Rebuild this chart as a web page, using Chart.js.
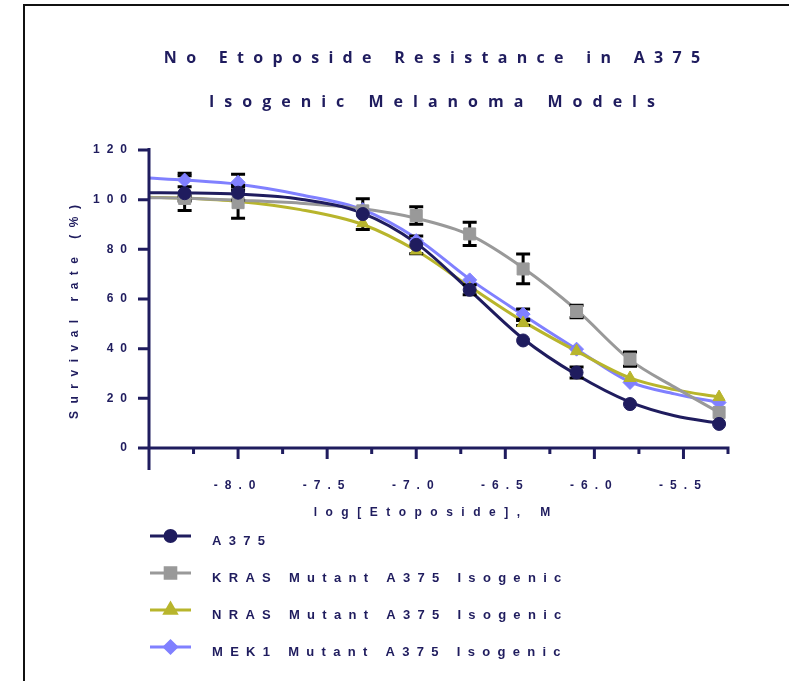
<!DOCTYPE html>
<html lang="en">
  <head>
    <meta charset="utf-8" />
    <title>Etoposide survival</title>
    <style>
      * {
        margin: 0;
        padding: 0;
      }
      body {
        background: #fff;
        width: 789px;
        height: 681px;
        overflow: hidden;
      }
      .frame {
        position: absolute;
        left: 23px;
        top: 4px;
        right: 0;
        bottom: 0;
        border-top: 2px solid #111;
        border-left: 2px solid #111;
      }
      canvas {
        position: absolute;
        left: 0;
        top: 0;
      }
    </style>
  </head>
  <body>
    <div class="frame"></div>
    <canvas id="myChart" width="789" height="681"></canvas>
    <script src="https://cdn.jsdelivr.net/npm/chart.js"></script>
    <script>
      // data (log molar concentration vs survival %)
      const logConc = [-8.3, -8.0, -7.3, -7.0, -6.7, -6.4, -6.1, -5.8, -5.3];
      const a375 = [102.6, 102.8, 94.2, 81.8, 63.7, 43.3, 30.4, 17.7, 9.7];
      const kras = [100.5, 98.8, 95.5, 93.6, 86.2, 72.1, 55.0, 35.8, 14.3];
      const nras = [100.5, 100.0, 90.5, 79.5, 64.2, 50.3, 39.0, 28.2, 20.5];
      const mek1 = [107.9, 107.0, 96.0, 83.5, 67.7, 53.9, 39.8, 26.4, 18.3];

      const a375Err = [7, 3, 6.2, 3.6, 2, 0, 2.2, 0, 0];
      const krasErr = [1, 6.3, 0, 3.5, 4.7, 6, 2.5, 2.9, 0];
      const nrasErr = [0, 0, 0, 0, 0, 1, 0, 0, 0];
      const mek1Err = [2.7, 3.2, 0, 0, 0, 2.1, 0, 0, 0];

      // fitted curves
      const fitConc = [-8.5, -8.3, -8.0, -7.65, -7.3, -7.0, -6.7, -6.4, -6.1, -5.8, -5.55, -5.3];
      const a375Fit = [102.8, 102.7, 102.2, 100.2, 94.5, 82.5, 63.5, 44.0, 29.5, 18.5, 13.0, 10.0];
      const krasFit = [100.8, 100.6, 99.8, 98.6, 96.3, 92.5, 85.8, 72.5, 55.6, 35.5, 24.5, 14.3];
      const nrasFit = [101.0, 100.6, 99.3, 96.0, 90.0, 79.5, 65.0, 51.0, 39.0, 28.2, 23.5, 20.5];
      const mek1Fit = [108.7, 107.9, 106.2, 102.0, 96.0, 84.5, 68.0, 53.6, 39.8, 26.6, 21.8, 18.3];

      const xMajor = [-8.0, -7.5, -7.0, -6.5, -6.0, -5.5];
      const xMinor = [-8.25, -7.75, -7.25, -6.75, -6.25, -5.75, -5.25];
      const yTicks = [0, 20, 40, 60, 80, 100, 120];

      const titleLines = ["No Etoposide Resistance in A375", "Isogenic Melanoma Models"];
      const xTitle = "log[Etoposide], M";
      const yTitle = "Survival rate (%)";

      const navy = "#1f1c5e";
      const series = [
        { label: "A375", y: a375, err: a375Err, fit: a375Fit, color: navy, style: "circle", r: 6.5, lr: 5.5 },
        { label: "KRAS Mutant A375 Isogenic", y: kras, err: krasErr, fit: krasFit, color: "#999999", style: "rect", r: 8.5, lr: 7.5 },
        { label: "NRAS Mutant A375 Isogenic", y: nras, err: nrasErr, fit: nrasFit, color: "#b8b52c", style: "triangle", r: 7, lr: 6.5 },
        { label: "MEK1 Mutant A375 Isogenic", y: mek1, err: mek1Err, fit: mek1Fit, color: "#8080ff", style: "rectRot", r: 7, lr: 6 },
      ];

      // markers first (index 0 drawn last = on top), fitted lines after
      const markerSets = series.map((s) => ({
        label: s.label,
        data: logConc.map((x, i) => ({ x, y: s.y[i] })),
        showLine: false,
        pointStyle: s.style,
        pointRadius: s.r,
        pointBackgroundColor: s.color,
        pointBorderColor: s.color,
        pointBorderWidth: 1,
      }));
      const fitSets = series.map((s) => ({
        label: s.label + " fit",
        data: fitConc.map((x, i) => ({ x, y: s.fit[i] })),
        borderColor: s.color,
        borderWidth: 3,
        pointRadius: 0,
        cubicInterpolationMode: "monotone",
      }));

      function spacedText(ctx, text, x, y, spacing, align) {
        ctx.letterSpacing = spacing + "px";
        const w = ctx.measureText(text).width - spacing;
        ctx.textAlign = "left";
        ctx.fillText(text, align === "center" ? x - w / 2 : x, y);
      }

      function drawErrors(chart) {
        const { ctx, scales: { x, y } } = chart;
        ctx.save();
        ctx.strokeStyle = "#000";
        ctx.lineWidth = 3;
        series.forEach((s) => {
          logConc.forEach((c, i) => {
            const e = s.err[i];
            if (!e) return;
            const px = x.getPixelForValue(c);
            const top = y.getPixelForValue(s.y[i] + e);
            const bot = y.getPixelForValue(s.y[i] - e);
            ctx.beginPath();
            ctx.moveTo(px, top);
            ctx.lineTo(px, bot);
            ctx.moveTo(px - 7, top);
            ctx.lineTo(px + 7, top);
            ctx.moveTo(px - 7, bot);
            ctx.lineTo(px + 7, bot);
            ctx.stroke();
          });
        });
        ctx.restore();
      }

      const prismPlugin = {
        id: "prismPlugin",
        beforeDraw(chart) {
          chart.ctx.letterSpacing = "7px";
        },
        beforeDatasetDraw(chart, args) {
          if (args.index === series.length - 1) drawErrors(chart);
        },
        afterDraw(chart) {
          const { ctx, scales: { x, y } } = chart;
          const ax = x.getPixelForValue(-8.5);
          const ay = y.getPixelForValue(0);
          ctx.save();
          ctx.strokeStyle = navy;
          ctx.lineWidth = 3;
          ctx.lineCap = "butt";
          ctx.beginPath();
          // axis lines, crossing like Prism
          ctx.moveTo(ax, y.getPixelForValue(120) - 2);
          ctx.lineTo(ax, ay + 22);
          ctx.moveTo(ax - 9, ay);
          ctx.lineTo(x.getPixelForValue(-5.25) + 1.5, ay);
          yTicks.forEach((v) => {
            const py = y.getPixelForValue(v);
            ctx.moveTo(ax - 11, py);
            ctx.lineTo(ax, py);
          });
          xMajor.forEach((v) => {
            const px = x.getPixelForValue(v);
            ctx.moveTo(px, ay);
            ctx.lineTo(px, ay + 11);
          });
          xMinor.forEach((v) => {
            const px = x.getPixelForValue(v);
            ctx.moveTo(px, ay);
            ctx.lineTo(px, ay + 6);
          });
          ctx.stroke();

          ctx.fillStyle = navy;
          ctx.textBaseline = "middle";
          ctx.font = "bold 16px 'Open Sans'";
          spacedText(ctx, titleLines[0], 432, 58, 9.3, "center");
          spacedText(ctx, titleLines[1], 432, 102, 10, "center");

          ctx.font = "bold 12px 'Liberation Sans'";
          spacedText(ctx, xTitle, 432, 513, 8.5, "center");
          ctx.save();
          ctx.translate(75, 312);
          ctx.rotate(-Math.PI / 2);
          spacedText(ctx, yTitle, 0, 0, 7.5, "center");
          ctx.restore();

          // legend
          ctx.font = "bold 13px 'Liberation Sans'";
          series.forEach((s, i) => {
            const ly = 536 + i * 37;
            ctx.strokeStyle = s.color;
            ctx.lineWidth = 3;
            ctx.beginPath();
            ctx.moveTo(150, ly);
            ctx.lineTo(191, ly);
            ctx.stroke();
            ctx.fillStyle = s.color;
            Chart.helpers.drawPoint(ctx, { pointStyle: s.style, radius: s.lr, rotation: 0, borderWidth: 1 }, 170.5, ly);
            ctx.fillStyle = navy;
            spacedText(ctx, s.label, 212, ly + 5, 7.3, "left");
          });
          ctx.restore();
        },
      };

      const labelFont = { family: "'Liberation Sans'", weight: "bold", size: 12 };

      const config = {
        type: "line",
        data: { datasets: markerSets.concat(fitSets) },
        options: {
          responsive: false,
          animation: false,
          layout: { padding: { left: 0, top: 150, right: 61, bottom: 0 } },
          plugins: {
            legend: { display: false },
            title: { display: false },
            tooltip: { enabled: false },
          },
          scales: {
            x: {
              type: "linear",
              min: -8.5,
              max: -5.25,
              grid: { display: false, drawTicks: false },
              border: { display: false },
              afterBuildTicks: (s) => {
                s.ticks = xMajor.map((v) => ({ value: v }));
              },
              afterFit: (s) => {
                s.height = 233;
              },
              ticks: {
                padding: 30,
                color: navy,
                font: labelFont,
                maxRotation: 0,
                autoSkip: false,
                callback: (v) => Number(v).toFixed(1),
              },
            },
            y: {
              min: 0,
              max: 120,
              grid: { display: false, drawTicks: false },
              border: { display: false },
              afterBuildTicks: (s) => {
                s.ticks = yTicks.map((v) => ({ value: v }));
              },
              afterFit: (s) => {
                s.width = 149;
              },
              ticks: { padding: 15, color: navy, font: labelFont },
            },
          },
        },
        plugins: [prismPlugin],
      };

      const myChart = new Chart(document.getElementById("myChart"), config);
    </script>
  </body>
</html>
